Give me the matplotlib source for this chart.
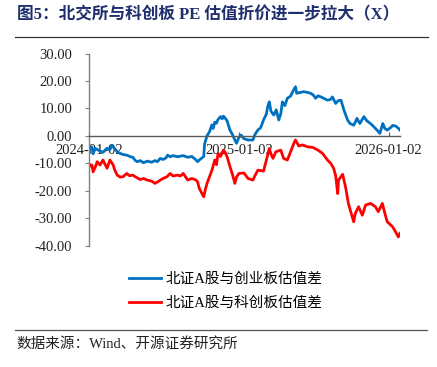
import pandas as pd
import matplotlib
matplotlib.use("Agg")
import matplotlib.pyplot as plt
import matplotlib.dates as mdates
from matplotlib.ticker import FormatStrFormatter

plt.rcParams['font.family'] = ['Liberation Serif', 'Noto Sans CJK SC']

# 北证A股与创业板估值差
blue_dates = ["2024-01-02", "2024-01-05", "2024-01-09", "2024-01-12", "2024-01-17", "2024-01-22",
              "2024-01-29", "2024-02-05", "2024-02-15", "2024-02-22", "2024-02-27", "2024-03-04",
              "2024-03-11", "2024-03-18", "2024-03-25", "2024-04-03", "2024-04-12", "2024-04-18",
              "2024-04-24", "2024-04-29", "2024-05-06", "2024-05-14", "2024-05-23", "2024-06-03",
              "2024-06-11", "2024-06-17", "2024-06-24", "2024-07-01", "2024-07-08", "2024-07-12",
              "2024-07-18", "2024-07-25", "2024-08-05", "2024-08-19", "2024-08-30", "2024-09-09",
              "2024-09-18", "2024-09-23", "2024-09-27", "2024-10-08", "2024-10-10", "2024-10-16",
              "2024-10-22", "2024-10-28", "2024-10-31", "2024-11-04", "2024-11-08", "2024-11-12",
              "2024-11-18", "2024-11-22", "2024-11-25", "2024-11-29", "2024-12-04", "2024-12-11",
              "2024-12-17", "2024-12-23", "2024-12-27", "2025-01-02", "2025-01-07", "2025-01-14",
              "2025-01-24", "2025-02-05", "2025-02-10", "2025-02-17", "2025-02-24", "2025-03-03",
              "2025-03-10", "2025-03-13", "2025-03-17", "2025-03-21", "2025-03-28", "2025-04-03",
              "2025-04-09", "2025-04-14", "2025-04-18", "2025-04-24", "2025-04-30", "2025-05-08",
              "2025-05-13", "2025-05-20", "2025-05-23", "2025-05-28", "2025-06-09", "2025-06-19",
              "2025-06-26", "2025-07-03", "2025-07-08", "2025-07-14", "2025-07-21", "2025-07-30",
              "2025-08-06", "2025-08-14", "2025-08-18", "2025-08-26", "2025-09-01", "2025-09-08",
              "2025-09-15", "2025-09-24", "2025-09-30", "2025-10-09", "2025-10-13", "2025-10-17",
              "2025-10-24", "2025-11-03", "2025-11-10", "2025-11-19", "2025-11-26", "2025-12-05",
              "2025-12-12", "2025-12-16", "2025-12-19", "2025-12-24", "2025-12-30", "2026-01-07",
              "2026-01-12", "2026-01-19", "2026-01-26", "2026-01-30"]
blue_vals = [-3.5, -5.0, -4.0, -6.5, -4.5, -5.0,
             -5.5, -6.0, -4.5, -5.0, -3.4, -4.5,
             -5.8, -6.4, -6.8, -7.0, -7.6, -7.8,
             -9.0, -9.4, -9.0, -9.8, -9.2, -9.6,
             -9.0, -9.4, -8.2, -8.6, -8.0, -7.0,
             -7.6, -7.2, -7.6, -7.2, -7.8, -7.5,
             -8.6, -9.4, -8.8, -7.5, -3.0, 0.0,
             1.5, 4.0, 2.7, 5.0, 4.6, 6.0,
             7.0, 6.2, 7.2, 6.5, 5.5, 2.1,
             0.5, -1.5, -2.7, -0.5, 0.3, -1.0,
             -1.5, -1.5, 0.5, 2.1, 3.0, 5.8,
             8.0, 10.6, 12.4, 9.0, 7.6, 9.5,
             5.8, 8.0, 12.4, 11.0, 13.7, 14.5,
             16.1, 17.9, 15.5, 15.7, 16.1, 15.8,
             15.5, 14.8, 13.7, 14.6, 14.2, 13.5,
             13.0, 13.3, 14.2, 11.8, 12.8, 13.0,
             9.5, 5.8, 4.5, 3.9, 5.0, 6.4,
             4.5, 7.0, 5.5, 4.5, 3.5, 2.1,
             0.9, 3.0, 4.5, 2.7, 2.1, 3.0,
             3.8, 3.6, 2.8, 2.1]

# 北证A股与科创板估值差
red_dates = ["2024-01-02", "2024-01-05", "2024-01-09", "2024-01-12", "2024-01-17", "2024-01-22",
             "2024-01-29", "2024-02-05", "2024-02-09", "2024-02-15", "2024-02-22", "2024-03-01",
             "2024-03-05", "2024-03-11", "2024-03-18", "2024-03-25", "2024-04-03", "2024-04-10",
             "2024-04-18", "2024-04-25", "2024-05-06", "2024-05-14", "2024-05-23", "2024-06-03",
             "2024-06-11", "2024-06-17", "2024-06-24", "2024-07-01", "2024-07-10", "2024-07-18",
             "2024-07-25", "2024-08-05", "2024-08-12", "2024-08-19", "2024-08-30", "2024-09-09",
             "2024-09-18", "2024-09-23", "2024-09-27", "2024-10-08", "2024-10-12", "2024-10-16",
             "2024-10-28", "2024-11-04", "2024-11-08", "2024-11-12", "2024-11-18", "2024-11-25",
             "2024-11-29", "2024-12-04", "2024-12-11", "2024-12-17", "2024-12-23", "2024-12-27",
             "2025-01-02", "2025-01-14", "2025-01-24", "2025-02-05", "2025-02-10", "2025-02-17",
             "2025-03-03", "2025-03-10", "2025-03-17", "2025-03-21", "2025-03-26", "2025-04-02",
             "2025-04-14", "2025-04-21", "2025-04-30", "2025-05-08", "2025-05-16", "2025-05-20",
             "2025-05-28", "2025-06-06", "2025-06-19", "2025-07-01", "2025-07-14", "2025-07-25",
             "2025-08-06", "2025-08-14", "2025-08-21", "2025-08-26", "2025-08-31", "2025-09-02",
             "2025-09-12", "2025-09-19", "2025-09-26", "2025-10-09", "2025-10-13", "2025-10-21",
             "2025-10-30", "2025-11-07", "2025-11-19", "2025-12-01", "2025-12-08", "2025-12-18",
             "2025-12-24", "2025-12-30", "2026-01-12", "2026-01-19", "2026-01-26", "2026-01-30"]
red_vals = [-10.0, -11.0, -10.6, -13.1, -11.5, -9.4,
            -10.6, -8.8, -10.0, -11.8, -8.8, -10.6,
            -12.5, -14.3, -15.0, -14.9, -13.7, -14.5,
            -14.3, -15.0, -15.9, -15.5, -16.1, -16.5,
            -17.3, -16.8, -16.1, -15.5, -14.9, -13.7,
            -14.6, -14.3, -14.6, -13.7, -16.1, -15.5,
            -16.0, -16.7, -19.1, -22.2, -19.5, -17.3,
            -12.5, -8.8, -10.5, -6.4, -7.5, -5.2,
            -6.0, -7.6, -11.2, -14.0, -17.3, -15.0,
            -13.7, -13.5, -15.5, -16.1, -14.5, -12.5,
            -12.8, -8.8, -4.6, -6.5, -8.2, -5.8,
            -5.2, -8.2, -8.8, -5.8, -2.7, -1.5,
            -3.7, -3.3, -4.0, -4.2, -5.2, -6.4,
            -8.8, -10.0, -11.8, -14.5, -21.0, -16.1,
            -14.0, -18.5, -24.6, -31.3, -28.2, -25.8,
            -28.9, -25.2, -24.6, -25.8, -27.6, -24.6,
            -28.2, -31.3, -33.1, -34.9, -36.8, -35.5]

x_ticks = ["2024-01-02", "2025-01-02", "2026-01-02"]
y_ticks = [30, 20, 10, 0, -10, -20, -30, -40]

title_text = "图5：北交所与科创板 PE 估值折价进一步拉大（X）"
source_text = "数据来源：Wind、开源证券研究所"

blue_dates = pd.to_datetime(blue_dates)
red_dates = pd.to_datetime(red_dates)

fig = plt.figure(figsize=(4.37, 3.67), dpi=100)
ax = fig.add_axes([0.2037, 0.3305, 0.7116, 0.5237])

ax.plot(blue_dates, blue_vals, color="#0070C0", lw=2.0, label="北证A股与创业板估值差")
ax.plot(red_dates, red_vals, color="#FF0000", lw=2.0, label="北证A股与科创板估值差")

ax.set_ylim(-40, 30)
ax.set_xlim(blue_dates[0], blue_dates[-1])
ax.set_yticks(y_ticks)
ax.yaxis.set_major_formatter(FormatStrFormatter("%.2f"))
ax.set_xticks(pd.to_datetime(x_ticks))
ax.xaxis.set_major_formatter(mdates.DateFormatter("%Y-%m-%d"))

for s in ["top", "right"]:
    ax.spines[s].set_visible(False)
ax.spines["bottom"].set_position(("data", 0))
ax.spines["bottom"].set_color("#595959")
ax.spines["left"].set_color("#808080")
ax.spines["bottom"].set_linewidth(1.0)
ax.spines["left"].set_linewidth(1.0)

ax.tick_params(axis="y", direction="out", length=3, pad=9, color="#808080",
               labelsize=10.5, labelcolor="#222222")
ax.tick_params(axis="x", direction="in", length=3, pad=6, color="#595959",
               labelsize=10.5, labelcolor="#222222")

fig.legend(loc="upper left", bbox_to_anchor=(0.265, 0.294), frameon=False,
           handlelength=2.2, handletextpad=0.3, labelspacing=0.75,
           prop={'family': ['Liberation Serif', 'Noto Sans CJK SC'], 'size': 10.5})

fig.text(0.038, 0.96, title_text, fontsize=12, fontweight="bold", color="#1F2F6E",
         va="center", ha="left", family=['Liberation Serif', 'Noto Sans CJK SC'])
fig.add_artist(plt.Line2D([0.034, 0.98], [0.899, 0.899], color="#333333", lw=0.9))
fig.add_artist(plt.Line2D([0.034, 0.977], [0.101, 0.101], color="#555555", lw=0.9))
fig.text(0.037, 0.063, source_text, fontsize=10.5, color="#222222",
         va="center", ha="left", family=['Liberation Serif', 'Noto Sans CJK SC'])

fig.savefig("out.png", dpi=100)
